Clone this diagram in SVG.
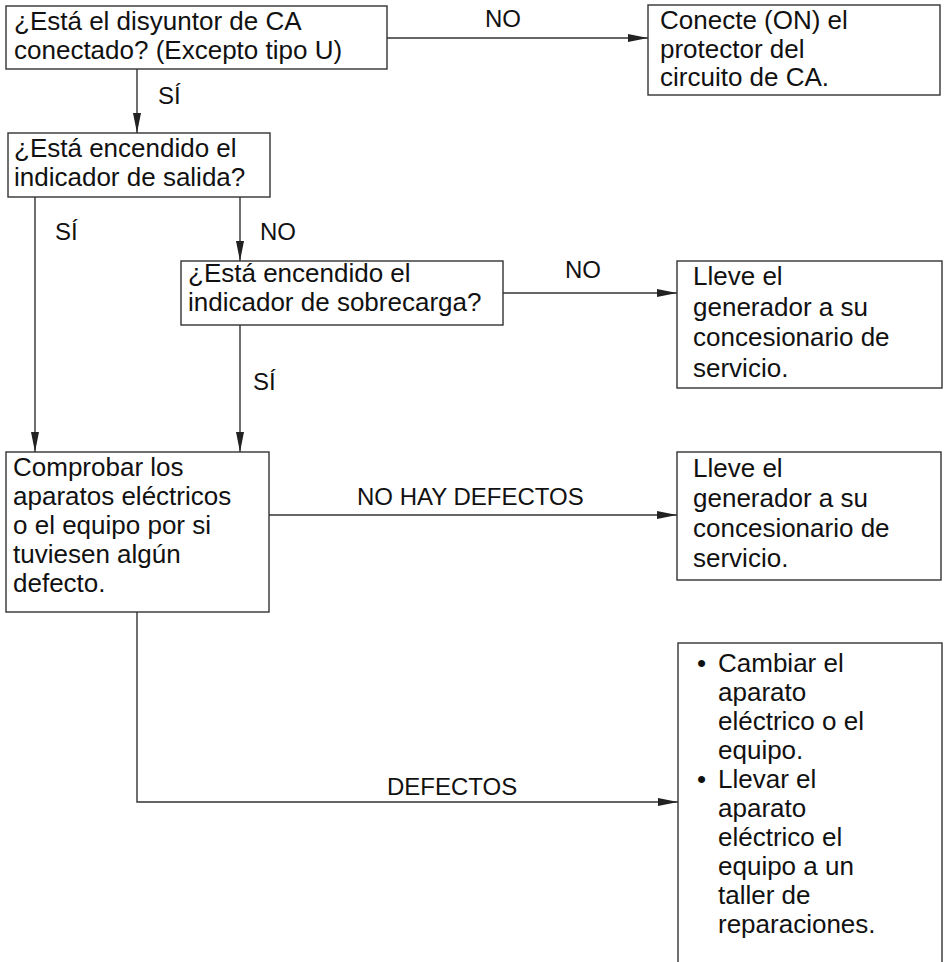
<svg xmlns="http://www.w3.org/2000/svg" width="945" height="962" viewBox="0 0 945 962">
<defs>
<style>
.box{fill:#fff;stroke:#333;stroke-width:1.4}
.t{font-family:"Liberation Sans",Arial,sans-serif;font-size:26px;fill:#111}
.lbl{font-family:"Liberation Sans",Arial,sans-serif;font-size:24px;fill:#111}
.c{fill:none;stroke:#333;stroke-width:1.4}
</style>
<marker id="arr" markerUnits="userSpaceOnUse" markerWidth="20" markerHeight="8" refX="20" refY="4" orient="auto">
<path d="M0,0 L20,4 L0,8 z" fill="#222"/>
</marker>
</defs>
<rect width="945" height="962" fill="#fff"/>
<g id="connectors">
<line class="c" x1="387" y1="38" x2="648" y2="38" marker-end="url(#arr)"/>
<line class="c" x1="137" y1="69" x2="137" y2="133" marker-end="url(#arr)"/>
<line class="c" x1="35" y1="197" x2="35" y2="452" marker-end="url(#arr)"/>
<line class="c" x1="240" y1="197" x2="240" y2="261" marker-end="url(#arr)"/>
<line class="c" x1="503" y1="293" x2="677" y2="293" marker-end="url(#arr)"/>
<line class="c" x1="240" y1="325" x2="240" y2="452" marker-end="url(#arr)"/>
<line class="c" x1="269" y1="515" x2="677" y2="515" marker-end="url(#arr)"/>
<path class="c" d="M137,612 V802 H678" marker-end="url(#arr)"/>
<text class="lbl" x="485" y="27">NO</text>
<text class="lbl" x="158" y="104">SÍ</text>
<text class="lbl" x="55" y="240">SÍ</text>
<text class="lbl" x="260" y="240">NO</text>
<text class="lbl" x="565" y="278">NO</text>
<text class="lbl" x="253" y="390">SÍ</text>
<text class="lbl" x="357" y="505">NO HAY DEFECTOS</text>
<text class="lbl" x="387" y="795">DEFECTOS</text>
</g>
<g id="q-disyuntor">
<rect class="box" x="6" y="6" width="381" height="63"/>
<text class="t" x="14" y="30">¿Está el disyuntor de CA</text>
<text class="t" x="14" y="59">conectado? (Excepto tipo U)</text>
</g>
<g id="a-conecte">
<rect class="box" x="648" y="5" width="292" height="90"/>
<text class="t" x="660" y="29">Conecte (ON) el</text>
<text class="t" x="660" y="58">protector del</text>
<text class="t" x="660" y="86">circuito de CA.</text>
</g>
<g id="q-salida">
<rect class="box" x="8" y="133" width="262" height="64"/>
<text class="t" x="14" y="157">¿Está encendido el</text>
<text class="t" x="14" y="186">indicador de salida?</text>
</g>
<g id="q-sobrecarga">
<rect class="box" x="181" y="261" width="322" height="64"/>
<text class="t" x="188" y="282">¿Está encendido el</text>
<text class="t" x="188" y="311">indicador de sobrecarga?</text>
</g>
<g id="a-lleve1">
<rect class="box" x="677" y="261" width="265" height="127"/>
<text class="t" x="693" y="285">Lleve el</text>
<text class="t" x="693" y="316">generador a su</text>
<text class="t" x="693" y="346">concesionario de</text>
<text class="t" x="693" y="377">servicio.</text>
</g>
<g id="q-comprobar">
<rect class="box" x="6" y="452" width="263" height="160"/>
<text class="t" x="13" y="476">Comprobar los</text>
<text class="t" x="13" y="505">aparatos eléctricos</text>
<text class="t" x="13" y="534">o el equipo por si</text>
<text class="t" x="13" y="563">tuviesen algún</text>
<text class="t" x="13" y="592">defecto.</text>
</g>
<g id="a-lleve2">
<rect class="box" x="677" y="452" width="264" height="128"/>
<text class="t" x="693" y="477">Lleve el</text>
<text class="t" x="693" y="507">generador a su</text>
<text class="t" x="693" y="537">concesionario de</text>
<text class="t" x="693" y="567">servicio.</text>
</g>
<g id="a-cambiar">
<rect class="box" x="678" y="643" width="264" height="330"/>
<text class="t" x="697" y="672">•</text>
<text class="t" x="718" y="672">Cambiar el</text>
<text class="t" x="718" y="701">aparato</text>
<text class="t" x="718" y="730">eléctrico o el</text>
<text class="t" x="718" y="759">equipo.</text>
<text class="t" x="697" y="788">•</text>
<text class="t" x="718" y="788">Llevar el</text>
<text class="t" x="718" y="817">aparato</text>
<text class="t" x="718" y="846">eléctrico el</text>
<text class="t" x="718" y="875">equipo a un</text>
<text class="t" x="718" y="904">taller de</text>
<text class="t" x="718" y="933">reparaciones.</text>
</g>
</svg>
